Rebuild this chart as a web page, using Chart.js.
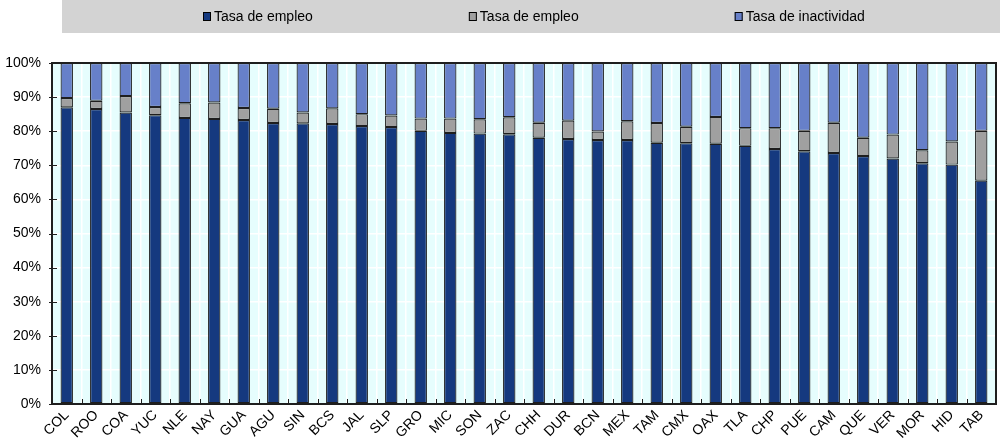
<!DOCTYPE html>
<html>
<head>
<meta charset="utf-8">
<script src="https://cdn.jsdelivr.net/npm/chart.js@4/dist/chart.umd.min.js"></script>
<style>
  html, body { margin: 0; padding: 0; background: #fff; }
  #wrap { position: relative; width: 1000px; height: 444px; }
</style>
</head>
<body>
<div id="wrap"><canvas id="chart" width="1000" height="444"></canvas></div>
<script>
const states = ['COL', 'ROO', 'COA', 'YUC', 'NLE', 'NAY', 'GUA', 'AGU', 'SIN', 'BCS', 'JAL', 'SLP', 'GRO', 'MIC', 'SON', 'ZAC',
  'CHH', 'DUR', 'BCN', 'MEX', 'TAM', 'CMX', 'OAX', 'TLA', 'CHP', 'PUE', 'CAM', 'QUE', 'VER', 'MOR', 'HID', 'TAB'];

const seriesNames = ['Tasa de empleo', 'Tasa de empleo', 'Tasa de inactividad'];

const employment = [87.0, 86.5, 85.5, 84.7, 83.9, 83.6, 83.3, 82.4, 82.3, 82.1, 81.5, 81.2, 80.1, 79.5, 79.3, 79.1,
  78.1, 77.7, 77.4, 77.4, 76.6, 76.5, 76.3, 75.7, 74.8, 74.1, 73.6, 72.7, 72.0, 70.6, 70.2, 65.5];

const unemployment = [2.7, 2.4, 4.8, 2.4, 4.3, 4.8, 3.5, 4.2, 3.2, 4.6, 3.5, 3.4, 3.6, 4.2, 4.2, 5.0,
  4.4, 5.4, 2.5, 5.5, 5.8, 4.8, 7.9, 5.2, 6.1, 6.0, 8.9, 5.4, 7.0, 3.8, 6.8, 14.6];

const inactivity = [10.3, 11.1, 9.7, 12.9, 11.8, 11.6, 13.2, 13.4, 14.5, 13.3, 15.0, 15.4, 16.3, 16.3, 16.5, 15.9,
  17.5, 16.9, 20.1, 17.1, 17.6, 18.7, 15.8, 19.1, 19.1, 19.9, 17.5, 21.9, 21.0, 25.6, 23.0, 19.9];

const yTicks = [0, 10, 20, 30, 40, 50, 60, 70, 80, 90, 100];

const colors = ['#15397f', '#a0a0a0', '#6780c9'];
const edge = '#1e1e1e';
const font = 'Arial, "Liberation Sans", sans-serif';

// plot background, border and the small inward ticks
const framePlugin = {
  id: 'frame',
  beforeDraw(chart) {
    const { ctx, chartArea: a } = chart;
    ctx.save();
    ctx.fillStyle = '#e6fdfd';
    ctx.fillRect(a.left, a.top, a.right - a.left, a.bottom - a.top);
    ctx.restore();
  },
  afterDraw(chart) {
    const { ctx, chartArea: a, scales } = chart;
    ctx.save();
    ctx.strokeStyle = edge;
    ctx.lineWidth = 1;
    ctx.beginPath();
    const x = scales.x;
    for (let i = 0; i < states.length - 1; i++) {
      const px = Math.round((x.getPixelForValue(i) + x.getPixelForValue(i + 1)) / 2) + 0.5;
      ctx.moveTo(px, a.bottom);
      ctx.lineTo(px, a.bottom - 5);
    }
    yTicks.forEach(v => {
      const py = Math.round(scales.y.getPixelForValue(v)) + 0.5;
      ctx.moveTo(a.left - 3, py);
      ctx.lineTo(a.left + 5, py);
    });
    ctx.stroke();
    ctx.lineWidth = 2;
    ctx.strokeRect(a.left, a.top, a.right - a.left, a.bottom - a.top);
    ctx.restore();
  }
};

// grey legend band across the top
const legendPlugin = {
  id: 'greyLegend',
  afterDraw(chart) {
    const { ctx } = chart;
    ctx.save();
    ctx.fillStyle = '#d3d3d3';
    ctx.fillRect(62, 0, 938, 33);
    ctx.font = '14px ' + font;
    ctx.textBaseline = 'middle';
    let cx = 203;
    chart.data.datasets.forEach(ds => {
      ctx.fillStyle = ds.backgroundColor;
      ctx.fillRect(cx, 12, 8, 9);
      ctx.strokeStyle = '#000';
      ctx.lineWidth = 1;
      ctx.strokeRect(cx + 0.5, 12.5, 7, 8);
      ctx.fillStyle = '#000';
      ctx.fillText(ds.label, cx + 11, 17);
      cx += 11 + ctx.measureText(ds.label).width + 156;
    });
    ctx.restore();
  }
};

new Chart(document.getElementById('chart').getContext('2d'), {
  type: 'bar',
  data: {
    labels: states,
    datasets: [employment, unemployment, inactivity].map((d, i) => ({
      label: seriesNames[i],
      data: d,
      backgroundColor: colors[i],
      borderColor: edge,
      borderWidth: 1.2,
      borderSkipped: false,
      barPercentage: 0.42,
      categoryPercentage: 1.0
    }))
  },
  options: {
    responsive: false,
    animation: false,
    layout: { padding: { top: 63, right: 4, left: 0, bottom: 0 } },
    plugins: {
      legend: { display: false },
      tooltip: { enabled: false }
    },
    scales: {
      x: {
        stacked: true,
        afterFit: s => { s.height = 40; },
        grid: { color: '#ffffff', lineWidth: 1.5, drawTicks: false, offset: true },
        border: { color: edge, width: 2 },
        ticks: {
          minRotation: 45,
          maxRotation: 45,
          padding: 3,
          color: '#000',
          font: { family: font, size: 14 }
        }
      },
      y: {
        stacked: true,
        min: 0,
        max: 100,
        afterFit: s => { s.width = 52; },
        afterBuildTicks: s => { s.ticks = yTicks.map(v => ({ value: v })); },
        grid: { color: '#ffffff', lineWidth: 1.5, drawTicks: false },
        border: { color: edge, width: 2 },
        ticks: {
          padding: 11,
          color: '#000',
          font: { family: font, size: 14 },
          callback: v => v + '%'
        }
      }
    }
  },
  plugins: [framePlugin, legendPlugin]
});
</script>
</body>
</html>
